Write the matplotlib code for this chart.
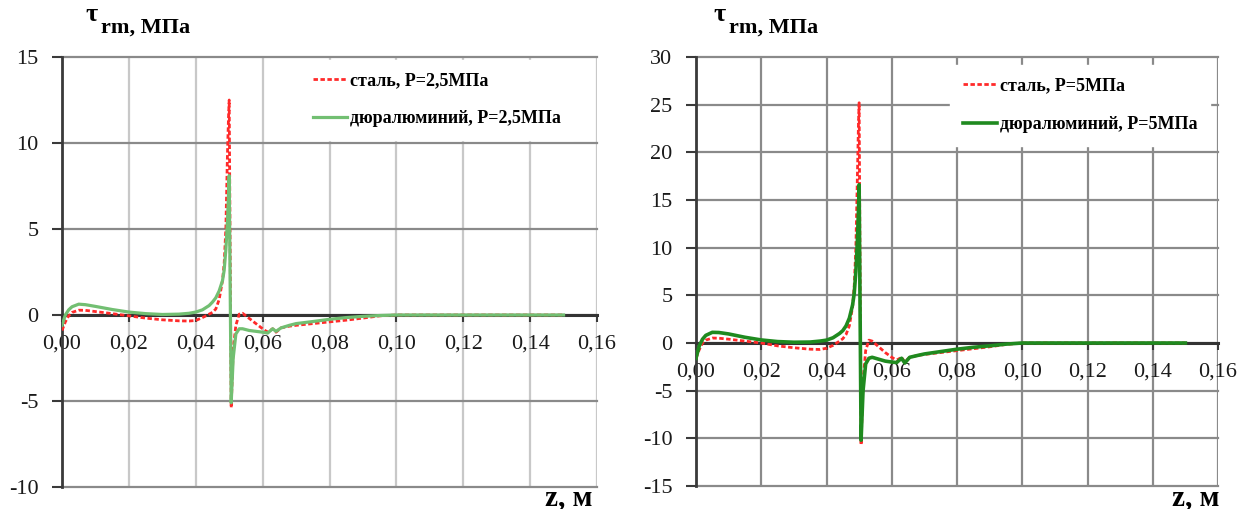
import matplotlib
matplotlib.use('Agg')
import matplotlib.pyplot as plt
from matplotlib.ticker import FuncFormatter

# ---------------- data ----------------
z = [0.000, 0.001, 0.002, 0.003, 0.005, 0.007, 0.010, 0.015, 0.020, 0.025,
     0.030, 0.035, 0.038, 0.040, 0.042, 0.044, 0.045, 0.046, 0.047, 0.048,
     0.0485, 0.049, 0.0495, 0.0498, 0.0500, 0.0506, 0.0512, 0.052, 0.053, 0.054,
     0.056, 0.058, 0.060, 0.0615, 0.063, 0.064, 0.0655, 0.068, 0.070, 0.075,
     0.080, 0.085, 0.090, 0.095, 0.100, 0.110, 0.120, 0.130, 0.140, 0.150]

steel_p25 = [-0.9, -0.4, -0.05, 0.15, 0.28, 0.27, 0.2, 0.08, -0.05, -0.18,
             -0.28, -0.34, -0.35, -0.32, -0.15, 0.05, 0.15, 0.35, 0.9, 2.0,
             3.0, 5.0, 9.5, 11.5, 12.5, -5.4, -2.0, -0.6, 0.05, 0.1,
             -0.2, -0.5, -0.8, -1.0, -0.8, -1.0, -0.75, -0.65, -0.6, -0.5,
             -0.4, -0.3, -0.18, -0.05, 0.0, 0.0, 0.0, 0.0, 0.0, 0.0]

dural_p25 = [-0.6, 0.0, 0.3, 0.48, 0.63, 0.6, 0.5, 0.32, 0.17, 0.08,
             0.03, 0.05, 0.1, 0.17, 0.3, 0.55, 0.75, 1.0, 1.4, 2.0,
             2.6, 3.8, 5.5, 7.0, 8.1, -5.1, -2.5, -1.1, -0.8, -0.8,
             -0.9, -0.95, -1.0, -1.05, -0.8, -0.95, -0.75, -0.6, -0.5, -0.38,
             -0.25, -0.15, -0.08, -0.03, 0.0, 0.0, 0.0, 0.0, 0.0, 0.0]

steel_p5 = [-1.6, -0.7, 0.0, 0.3, 0.52, 0.5, 0.4, 0.2, 0.0, -0.3,
            -0.5, -0.65, -0.68, -0.55, -0.25, 0.2, 0.45, 0.9, 1.8, 3.8,
            6.0, 10.0, 18.0, 23.0, 25.2, -10.7, -4.0, -0.8, 0.3, 0.2,
            -0.4, -1.0, -1.5, -1.8, -1.5, -2.0, -1.5, -1.3, -1.2, -1.0,
            -0.8, -0.6, -0.4, -0.15, 0.0, 0.0, 0.0, 0.0, 0.0, 0.0]

dural_p5 = [-1.6, -0.3, 0.4, 0.8, 1.12, 1.1, 0.95, 0.6, 0.32, 0.15,
            0.08, 0.1, 0.2, 0.3, 0.55, 1.0, 1.3, 1.8, 2.6, 4.0,
            5.2, 7.5, 11.0, 14.0, 16.6, -10.2, -5.0, -2.2, -1.6, -1.5,
            -1.7, -1.9, -2.0, -2.05, -1.6, -2.1, -1.5, -1.3, -1.15, -0.9,
            -0.65, -0.45, -0.3, -0.12, 0.0, 0.0, 0.0, 0.0, 0.0, 0.0]

x_ticks = [0.00, 0.02, 0.04, 0.06, 0.08, 0.10, 0.12, 0.14, 0.16]
y_ticks_left = [-10, -5, 0, 5, 10, 15]
y_ticks_right = [-15, -10, -5, 0, 5, 10, 15, 20, 25, 30]

label_steel_left = "сталь, P=2,5МПа"
label_dural_left = "дюралюминий, P=2,5МПа"
label_steel_right = "сталь, P=5МПа"
label_dural_right = "дюралюминий, P=5МПа"

# ---------------- figure ----------------
plt.rcParams['font.family'] = ['Liberation Serif', 'DejaVu Serif']

W, H = 1247, 509
fig = plt.figure(figsize=(W / 100, H / 100), dpi=100)


def rect(x0, x1, y0, y1):
    return [x0 / W, 1 - y1 / H, (x1 - x0) / W, (y1 - y0) / H]


panels = [
    dict(rect=rect(62, 597, 57, 487), ylim=(-10, 15), yticks=y_ticks_left,
         steel=steel_p25, dural=dural_p25, ls=label_steel_left, ld=label_dural_left,
         hgrid='#8a8a8a', vgrid='#c8c8c8', green='#72bf72', glw=2.3,
         leg_x=300, leg_y=60, lsp=1.15, tau_x=85, title_x=101, zlab_x=592),
    dict(rect=rect(696, 1218, 57, 486), ylim=(-15, 30), yticks=y_ticks_right,
         steel=steel_p5, dural=dural_p5, ls=label_steel_right, ld=label_dural_right,
         hgrid='#8a8a8a', vgrid='#8a8a8a', green='#1f8a1f', glw=2.6,
         leg_x=950, leg_y=65, lsp=1.2, tau_x=713, title_x=729, zlab_x=1219),
]

for p in panels:
    ax = fig.add_axes(p['rect'])
    ax.set_xlim(0, 0.16)
    ax.set_ylim(*p['ylim'])
    ax.set_xticks(x_ticks)
    ax.set_yticks(p['yticks'])
    ax.xaxis.set_major_formatter(FuncFormatter(lambda v, pos: f"{v:.2f}".replace('.', ',')))
    ax.yaxis.set_major_formatter(FuncFormatter(lambda v, pos: f"{int(round(v))}"))

    ax.set_axisbelow(True)
    ax.grid(axis='y', color=p['hgrid'], lw=1.6)
    ax.grid(axis='x', color=p['vgrid'], lw=1.6)
    for gl in ax.get_xgridlines() + ax.get_ygridlines():
        gl.set_clip_on(False)

    for s in ('top', 'right'):
        ax.spines[s].set_visible(False)
    ax.spines['bottom'].set_position(('data', 0))
    ax.spines['bottom'].set_color('#333333')
    ax.spines['bottom'].set_linewidth(2.2)
    ax.spines['left'].set_color('#3a3a3a')
    ax.spines['left'].set_linewidth(2.0)

    ax.tick_params(axis='x', direction='out', length=5, width=1.5, color='#3a3a3a',
                   labelsize=16, pad=9, labelcolor='#1a1a1a')
    ax.tick_params(axis='y', direction='out', length=7, width=1.5, color='#3a3a3a',
                   labelsize=16, pad=10, labelcolor='#1a1a1a')

    ax.plot(z, p['steel'], color='#ff2a2a', lw=2.0, ls=(0, (1.6, 0.9)),
            label=p['ls'], zorder=3)
    ax.plot(z, p['dural'], color=p['green'], lw=p['glw'], ls='-',
            label=p['ld'], zorder=4)

    x0_ax, w_ax = p['rect'][0] * W, p['rect'][2] * W
    y1_ax, h_ax = (1 - p['rect'][1] - p['rect'][3]) * H, p['rect'][3] * H
    bx = (p['leg_x'] - x0_ax) / w_ax
    by = 1 - (p['leg_y'] - y1_ax) / h_ax
    leg = ax.legend(loc='upper left', bbox_to_anchor=(bx, by), borderaxespad=0,
                    frameon=True, fancybox=False, facecolor='white', edgecolor='white',
                    framealpha=1, prop={'weight': 'bold', 'size': 13},
                    handlelength=1.9, handletextpad=0.15, labelspacing=p['lsp'],
                    borderpad=0.7)
    leg.set_zorder(6)

    fig.text(p['tau_x'] / W, 1 - 21 / H, "τ", fontsize=19, fontweight='bold',
             ha='left', va='baseline')
    fig.text(p['title_x'] / W, 1 - 33 / H, "rm, МПа", fontsize=16, fontweight='bold',
             ha='left', va='baseline')
    fig.text(p['zlab_x'] / W, 1 - 505 / H, "z, м", fontsize=21, fontweight='bold',
             ha='right', va='baseline')

fig.savefig('out.png', dpi=100)
